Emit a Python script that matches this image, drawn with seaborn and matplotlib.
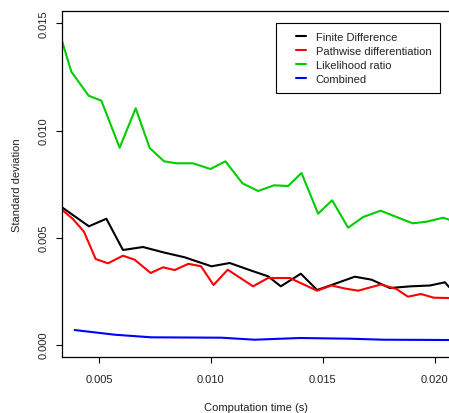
import matplotlib
matplotlib.use("Agg")
import matplotlib.pyplot as plt
import seaborn as sns
import pandas as pd
from matplotlib.lines import Line2D
from matplotlib.legend_handler import HandlerBase

# ---- data ----
series_names = ["Finite Difference", "Pathwise differentiation", "Likelihood ratio", "Combined"]
series_colors = ["#000000", "#FF0000", "#00CD00", "#0000FF"]

fd_x = [0.003347, 0.004553, 0.005331, 0.006072, 0.006966, 0.007904, 0.008829, 0.010022,
        0.010840, 0.011810, 0.012552, 0.013119, 0.014013, 0.014741, 0.015384, 0.016425,
        0.017172, 0.017990, 0.018928, 0.019777, 0.020447, 0.020630]
fd_y = [0.006415, 0.005527, 0.005882, 0.004421, 0.004561, 0.004304, 0.004080, 0.003660,
        0.003814, 0.003455, 0.003193, 0.002726, 0.003315, 0.002554, 0.002787, 0.003175,
        0.003035, 0.002647, 0.002726, 0.002764, 0.002913, 0.002694]

pw_x = [0.003347, 0.003838, 0.004330, 0.004853, 0.005402, 0.006072, 0.006595, 0.007310,
        0.007860, 0.008383, 0.008995, 0.009558, 0.010116, 0.010751, 0.011881, 0.012552,
        0.013521, 0.014741, 0.015384, 0.015979, 0.016573, 0.017587, 0.018289, 0.018794,
        0.019375, 0.019955, 0.020630]
pw_y = [0.006302, 0.005868, 0.005275, 0.004001, 0.003800, 0.004155, 0.003968, 0.003347,
        0.003613, 0.003487, 0.003777, 0.003660, 0.002787, 0.003501, 0.002726, 0.003114,
        0.003114, 0.002521, 0.002764, 0.002624, 0.002521, 0.002810, 0.002600, 0.002241,
        0.002367, 0.002194, 0.002180]

lr_x = [0.003347, 0.003767, 0.004540, 0.005107, 0.005925, 0.006640, 0.007265, 0.007904,
        0.008458, 0.009200, 0.009978, 0.010648, 0.011408, 0.012105, 0.012820, 0.013445,
        0.014044, 0.014786, 0.015411, 0.016126, 0.016796, 0.017574, 0.019004, 0.019629,
        0.020371, 0.020630]
lr_y = [0.014192, 0.012745, 0.011625, 0.011391, 0.009197, 0.011036, 0.009183, 0.008562,
        0.008469, 0.008469, 0.008203, 0.008562, 0.007535, 0.007176, 0.007442, 0.007409,
        0.008016, 0.006116, 0.006741, 0.005462, 0.005962, 0.006256, 0.005668, 0.005742,
        0.005929, 0.005836]

cb_x = [0.003914, 0.005702, 0.007341, 0.010469, 0.011957, 0.013968, 0.016202, 0.017690, 0.020630]
cb_y = [0.000686, 0.000467, 0.000345, 0.000327, 0.000233, 0.000313, 0.000280, 0.000233, 0.000219]

x_ticks = [0.005, 0.010, 0.015, 0.020]
x_tick_labels = ["0.005", "0.010", "0.015", "0.020"]
y_ticks = [0.000, 0.005, 0.010, 0.015]
y_tick_labels = ["0.000", "0.005", "0.010", "0.015"]

frames = []
for name, xs, ys in zip(series_names, [fd_x, pw_x, lr_x, cb_x], [fd_y, pw_y, lr_y, cb_y]):
    frames.append(pd.DataFrame({"time": xs, "sd": ys, "method": name}))
df = pd.concat(frames, ignore_index=True)

# ---- style ----
sns.set_style("ticks")
plt.rcParams["font.family"] = ["Liberation Sans", "DejaVu Sans"]
plt.rcParams["font.size"] = 8

fig = plt.figure(figsize=(4.49, 4.14), dpi=100)
ax = fig.add_axes([62 / 449, (414 - 358) / 414, (449 - 62) / 449, (358 - 12) / 414])

palette = dict(zip(series_names, series_colors))
sns.lineplot(data=df, x="time", y="sd", hue="method", hue_order=series_names,
             palette=palette, estimator=None, sort=False, linewidth=1.5, ax=ax, legend=False)

ax.set_xlim(0.00335, 0.02063)
ax.set_ylim(-0.000574, 0.015579)
ax.set_xticks(x_ticks)
ax.set_xticklabels(x_tick_labels)
ax.set_yticks(y_ticks)
ax.set_yticklabels(y_tick_labels, rotation=90, va="center")
ax.tick_params(axis="both", direction="out", length=4.3, width=0.8, color="black",
               labelcolor="#222222", labelsize=8)
ax.tick_params(axis="x", pad=8)
ax.tick_params(axis="y", pad=5.5)
for side in ["left", "bottom", "top"]:
    ax.spines[side].set_visible(True)
    ax.spines[side].set_color("black")
    ax.spines[side].set_linewidth(0.9)
ax.spines["right"].set_visible(False)

ax.set_xlabel("Computation time (s)", fontsize=8, labelpad=13, color="#222222")
ax.set_ylabel("Standard deviation", fontsize=8, labelpad=12, color="#222222")


class ShortLine(HandlerBase):
    def create_artists(self, legend, orig_handle, xdescent, ydescent, width, height,
                       fontsize, trans):
        y = height / 2 - ydescent
        x1 = width - xdescent
        x0 = x1 - 0.5 * width
        line = Line2D([x0, x1], [y, y], color=orig_handle.get_color(),
                      linewidth=orig_handle.get_linewidth())
        line.set_transform(trans)
        return [line]


handles = [Line2D([0], [0], color=c, linewidth=1.5) for c in series_colors]
leg = ax.legend(handles, series_names, loc="upper right", bbox_to_anchor=(0.977, 0.965),
                borderaxespad=0, frameon=True, fancybox=False, fontsize=8,
                handlelength=1.9, handletextpad=0.84, borderpad=0.8, labelspacing=0.35,
                handler_map={Line2D: ShortLine()})
leg.get_frame().set_edgecolor("black")
leg.get_frame().set_linewidth(0.8)
leg.get_frame().set_alpha(1)
for t in leg.get_texts():
    t.set_color("#222222")

fig.savefig("out.png", dpi=100)
